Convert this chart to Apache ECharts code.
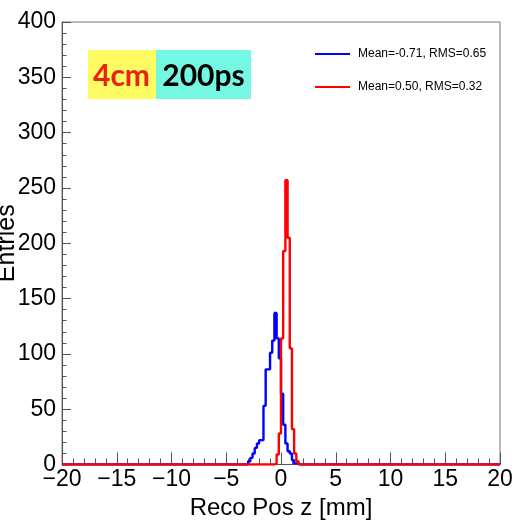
<!DOCTYPE html>
<html>
<head>
<meta charset="utf-8">
<script src="https://cdn.jsdelivr.net/npm/echarts@6/dist/echarts.min.js"></script>
<style>
html,body{margin:0;padding:0;background:#fff;}
#chart{width:522px;height:523px;}
</style>
</head>
<body>
<div id="chart"></div>
<script>
// ---- data ----
const xMin = -20, xMax = 20, binWidth = 0.2;
const xTickLabels = [-20, -15, -10, -5, 0, 5, 10, 15, 20];
const yTickLabels = [0, 50, 100, 150, 200, 250, 300, 350, 400];
const seriesNames = ['Mean=-0.71, RMS=0.65', 'Mean=0.50, RMS=0.32'];
const blueStart = -3.0;
const blueCounts = [3, 6, 10, 15, 19, 22, 22, 53, 86, 86, 101, 112, 137, 114, 96, 64, 36, 19, 12, 10, 4, 1, 1];
const redStart = -0.6;
const redCounts = [1, 9, 28, 114, 193, 257, 205, 105, 32, 10, 3];

function histPoints(start, counts) {
  const nBins = Math.round((xMax - xMin) / binWidth);
  const full = new Array(nBins).fill(0);
  const offset = Math.round((start - xMin) / binWidth);
  counts.forEach((c, i) => { full[offset + i] = c; });
  const pts = [];
  full.forEach((c, i) => {
    const lo = +(xMin + i * binWidth).toFixed(4);
    const hi = +(xMin + (i + 1) * binWidth).toFixed(4);
    pts.push([lo, c], [hi, c]);
  });
  return pts;
}

const chart = echarts.init(document.getElementById('chart'), null, {renderer: 'canvas'});
const font = 'Liberation Sans, Arial, Helvetica, sans-serif';
const axisCol = '#555';
const minus = v => String(v).replace('-', '\u2212');

chart.setOption({
  animation: false,
  backgroundColor: '#fff',
  grid: {left: 62, right: 22, top: 22, bottom: 58.5, show: true, borderColor: '#777', borderWidth: 1,
         backgroundColor: 'transparent', containLabel: false, outerBoundsMode: 'none'},
  xAxis: {
    type: 'value', min: xTickLabels[0], max: xTickLabels[xTickLabels.length - 1], interval: 5,
    name: 'Reco Pos z [mm]', nameLocation: 'middle', nameGap: 30,
    nameTextStyle: {fontFamily: font, fontSize: 24, color: '#000'},
    axisLine: {show: true, onZero: false, lineStyle: {color: axisCol, width: 1}},
    axisTick: {show: true, inside: true, length: 12, lineStyle: {color: axisCol}},
    minorTick: {show: true, splitNumber: 5, length: 6, lineStyle: {color: axisCol}},
    axisLabel: {fontFamily: font, fontSize: 23, color: '#000', margin: 4, formatter: v => minus(v), showMinLabel: true, showMaxLabel: true},
    splitLine: {show: false}
  },
  yAxis: {
    type: 'value', min: yTickLabels[0], max: yTickLabels[yTickLabels.length - 1], interval: 50,
    name: 'Entries', nameLocation: 'middle', nameGap: 42, nameRotate: 90, nameMoveOverlap: false,
    nameTextStyle: {fontFamily: font, fontSize: 25, color: '#000'},
    axisLine: {show: true, onZero: false, lineStyle: {color: axisCol, width: 1}},
    axisTick: {show: true, inside: true, length: 9, lineStyle: {color: axisCol}},
    minorTick: {show: true, splitNumber: 5, length: 4.5, lineStyle: {color: axisCol}},
    axisLabel: {fontFamily: font, fontSize: 23, color: '#000', margin: 6},
    splitLine: {show: false}
  },
  legend: {
    orient: 'vertical', left: 310, top: 43, itemGap: 21, padding: 5,
    itemWidth: 35, itemHeight: 2, icon: 'rect',
    textStyle: {fontFamily: font, fontSize: 12, color: '#000', padding: [0, 0, 0, 3]},
    data: seriesNames
  },
  graphic: [
    {type: 'rect', left: 88, top: 50, shape: {width: 68, height: 49}, style: {fill: '#fffb62'}, z: 10},
    {type: 'rect', left: 156, top: 50, shape: {width: 95, height: 49}, style: {fill: '#74f8e3'}, z: 10},
    {type: 'text', x: 121.5, y: 76, style: {text: '4cm', fill: '#e8230f', font: 'bold 30px Lato, sans-serif', textAlign: 'center', textVerticalAlign: 'middle'}, z: 11},
    {type: 'text', x: 203.5, y: 76, style: {text: '200ps', fill: '#000', font: 'bold 30px Lato, sans-serif', textAlign: 'center', textVerticalAlign: 'middle'}, z: 11}
  ],
  series: [
    {name: seriesNames[0], type: 'line', data: histPoints(blueStart, blueCounts), showSymbol: false, symbol: 'none',
     lineStyle: {color: '#0000ff', width: 2.4}, itemStyle: {color: '#0000ff'}, z: 3},
    {name: seriesNames[1], type: 'line', data: histPoints(redStart, redCounts), showSymbol: false, symbol: 'none',
     lineStyle: {color: '#ff0000', width: 2.4}, itemStyle: {color: '#ff0000'}, z: 4}
  ]
});
</script>
</body>
</html>
